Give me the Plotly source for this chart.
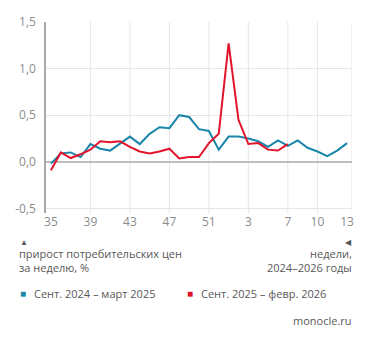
import plotly.graph_objects as go

# Weekly consumer price growth, %
week_labels = ["35", "39", "43", "47", "51", "3", "7", "10", "13"]
week_tick_pos = [0, 4, 8, 12, 16, 20, 24, 27, 30]

series_2024 = [-0.02, 0.09, 0.10, 0.05, 0.19, 0.14, 0.12, 0.20, 0.27, 0.19,
               0.30, 0.37, 0.36, 0.50, 0.48, 0.35, 0.33, 0.13, 0.27, 0.27,
               0.25, 0.22, 0.16, 0.23, 0.17, 0.23, 0.15, 0.11, 0.06, 0.12,
               0.20]
series_2025 = [-0.09, 0.10, 0.04, 0.08, 0.13, 0.22, 0.21, 0.22, 0.16, 0.11,
               0.09, 0.11, 0.14, 0.035, 0.05, 0.05, 0.20, 0.30, 1.27, 0.45,
               0.19, 0.20, 0.13, 0.12, 0.19]

y_ticks = [-0.5, 0.0, 0.5, 1.0, 1.5]
y_tick_text = ["-0,5", "0,0", "0,5", "1,0", "1,5"]

name_2024 = "Сент. 2024 – март 2025"
name_2025 = "Сент. 2025 – февр. 2026"

BLUE = "#1a86a9"
RED = "#e2142c"
TEXT = "#585858"
TICK = "#8c8c8c"
GRID = "#e6e6e6"
FONT = "Open Sans"

fig = go.Figure()
fig.add_trace(go.Scatter(x=list(range(len(series_2024))), y=series_2024,
                         mode="lines", name=name_2024,
                         line=dict(color=BLUE, width=2)))
fig.add_trace(go.Scatter(x=list(range(len(series_2025))), y=series_2025,
                         mode="lines", name=name_2025,
                         line=dict(color=RED, width=2)))

x_range = [-0.5, len(series_2024) - 0.5]

# vertical grid at interior ticks plus the right border of the plot area
shapes = []
for xv in week_tick_pos[1:-1] + [x_range[1]]:
    shapes.append(dict(type="line", xref="x", yref="paper", x0=xv, x1=xv,
                       y0=0, y1=1, line=dict(color=GRID, width=1), layer="below"))

# plot area spans 22..213 px vertically
top_px, bot_px = 22, 213
def py(px):
    return (bot_px - px) / (bot_px - top_px)

# plot area spans 46..352 px horizontally
left_px, right_px = 46, 352
def px_(p):
    return (p - left_px) / (right_px - left_px)

def note(text, x, y, anchor, size=11, color=TEXT, align="left"):
    return dict(text=text, xref="paper", yref="paper", x=px_(x), y=py(y),
                xanchor=anchor, yanchor="middle", showarrow=False, align=align,
                font=dict(family=FONT, size=size, color=color))

annotations = [
    note("▲", 18, 241, "left", size=8),
    note("прирост потребительских цен<br>за неделю, %", 17, 260, "left"),
    note("◀", 354, 241, "right", size=8),
    note("недели,<br>2024–2026 годы", 354, 260, "right", align="right"),
    note("■", 18, 293, "left", size=10, color=BLUE),
    note(name_2024, 32, 293, "left"),
    note("■", 185, 293, "left", size=10, color=RED),
    note(name_2025, 199, 293, "left"),
    note("monocle.ru", 354, 320, "right"),
]

fig.update_layout(
    width=371, height=344,
    margin=dict(l=left_px, r=371 - right_px, t=top_px, b=344 - bot_px),
    paper_bgcolor="white", plot_bgcolor="white",
    showlegend=False,
    font=dict(family=FONT, color=TEXT),
    shapes=shapes,
    annotations=annotations,
)
fig.update_xaxes(range=x_range, tickvals=week_tick_pos, ticktext=week_labels,
                 showgrid=False, zeroline=False,
                 showline=False, ticks="",
                 tickfont=dict(family=FONT, size=12, color=TICK))
fig.update_yaxes(range=[-0.55, 1.5], tickvals=y_ticks, ticktext=y_tick_text,
                 showgrid=True, gridcolor=GRID, gridwidth=1,
                 zeroline=True, zerolinecolor="#bdbdbd", zerolinewidth=2,
                 showline=True, linecolor="#a8a8a8", linewidth=1.5,
                 ticks="", ticklabelstandoff=6,
                 tickfont=dict(family=FONT, size=12, color=TICK))

fig.write_html("out.html")
